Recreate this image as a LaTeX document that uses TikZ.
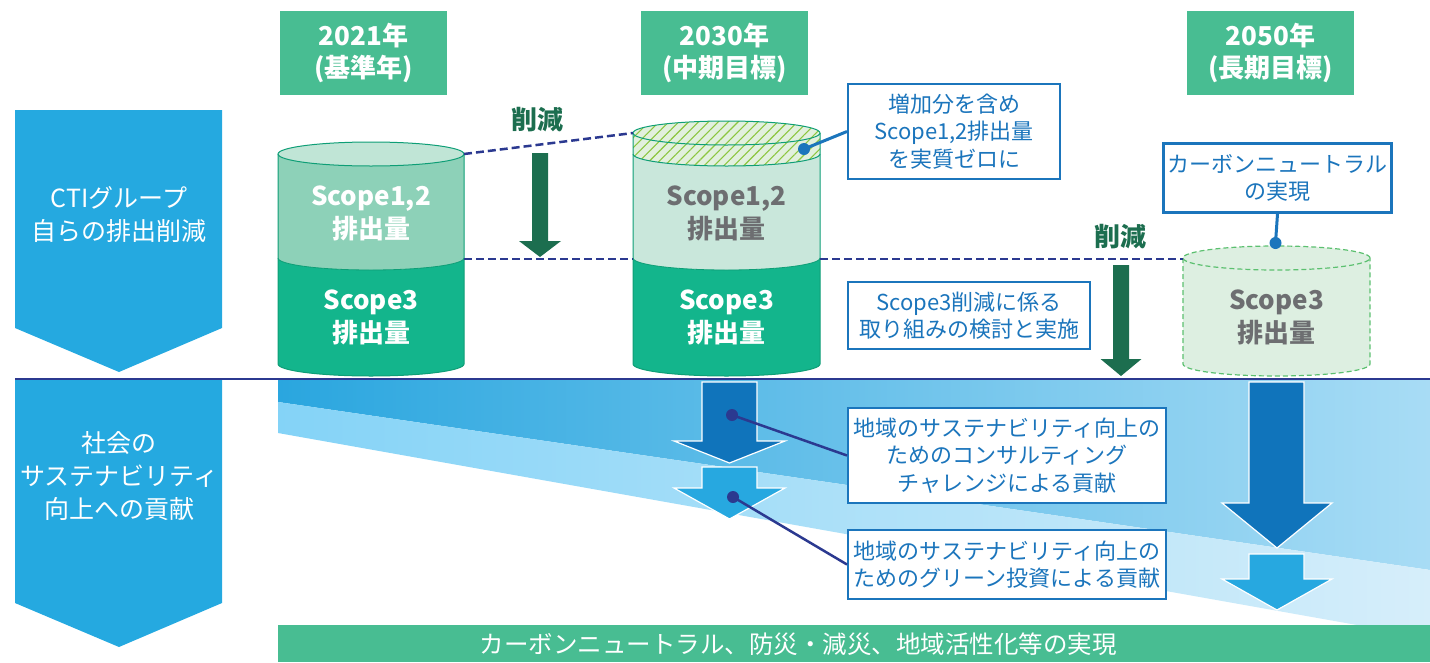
\documentclass[tikz,border=0pt]{standalone}
\usepackage{fontspec}
\setmainfont{Noto Sans CJK JP}
\usetikzlibrary{patterns.meta}
\definecolor{chev}{HTML}{25A9E0}
\definecolor{yeargreen}{HTML}{48BD92}
\definecolor{cylg}{HTML}{13B58C}
\definecolor{cylm}{HTML}{8DD1B8}
\definecolor{cylt}{HTML}{C0E5D6}
\definecolor{cyll}{HTML}{0E9E76}
\definecolor{cyllight}{HTML}{C9E7DB}
\definecolor{hatchbg}{HTML}{E2F0DE}
\definecolor{hatchln}{HTML}{8CC63F}
\definecolor{cylthree}{HTML}{DDEFE1}
\definecolor{cylthreel}{HTML}{5CC070}
\definecolor{navy}{HTML}{2B3990}
\definecolor{bblue}{HTML}{1B75BC}
\definecolor{dgreen}{HTML}{1C6E4F}
\definecolor{gtext}{HTML}{6D6E71}
\definecolor{arrdark}{HTML}{1074BB}
\definecolor{arrlight}{HTML}{27A8E0}
\definecolor{gradA}{HTML}{2AA6DF}
\definecolor{gradB}{HTML}{A8DCF5}
\definecolor{gradC}{HTML}{84D3F7}
\definecolor{gradD}{HTML}{D6EEFA}
\begin{document}
\begin{tikzpicture}[x=1pt,y=1pt,
  yearbox/.style={fill=yeargreen,text=white,font=\fontsize{26}{32}\selectfont\bfseries,minimum width=167,minimum height=84,inner sep=0,align=center},
  chevtext/.style={text=white,font=\fontsize{25}{33}\selectfont,align=center,inner sep=0},
  cyltext/.style={font=\fontsize{26}{33}\selectfont\bfseries,align=center,inner sep=0},
  cuttext/.style={text=dgreen,font=\fontsize{26}{30}\selectfont\bfseries,inner sep=0},
  infobox/.style={draw=bblue,line width=2,fill=white,text=bblue,font=\fontsize{22}{27.5}\selectfont,align=center,inner sep=0,anchor=north west},
  dashline/.style={draw=navy,line width=2.5,dash pattern=on 8pt off 4pt},
  blockarrow/.style={draw=white,line width=1.2},
  cutarrow/.style={fill=dgreen},
  rxy/.style={x radius=93,y radius=12}]
\useasboundingbox (0,0) rectangle (1430,-662);

% ---------- chevrons ----------
\fill[chev] (15,-110) -- (222,-110) -- (222,-328) -- (119,-372) -- (15,-328) -- cycle;
\node[chevtext] (ch1) at (119,-215) {CTIグループ\\自らの排出削減};
\fill[chev] (15,-380) -- (222,-380) -- (222,-603) -- (119,-647) -- (15,-603) -- cycle;
\node[chevtext] (ch2) at (119,-476) {社会の\\サステナビリティ\\向上への貢献};

% ---------- year boxes ----------
\node[yearbox] (y1) at (363.5,-53) {2021年\\(基準年)};
\node[yearbox] (y2) at (724.5,-53) {2030年\\(中期目標)};
\node[yearbox] (y3) at (1270.5,-53) {2050年\\(長期目標)};

% ---------- bottom gradient bands ----------
\shade[left color=gradA,right color=gradB] (278,-380) -- (1430,-380) -- (1430,-570) -- (278,-402) -- cycle;
\shade[left color=gradC,right color=gradD] (278,-402) -- (1430,-570) -- (1430,-638) -- (278,-433) -- cycle;
\fill[yeargreen] (278,-625) rectangle (1430,-662);
\node[text=white,font=\fontsize{24.5}{28}\selectfont,inner sep=0] (goal) at (798,-644) {カーボンニュートラル、防災・減災、地域活性化等の実現};

% ---------- cylinder 1 ----------
\fill[cylm] (278,-154) -- (278,-258) arc[start angle=180,end angle=360,rxy] -- (464,-154) -- cycle;
\fill[cylg] (278,-258) arc[start angle=180,end angle=360,rxy] -- (464,-364) arc[start angle=0,end angle=-180,rxy] -- cycle;
\filldraw[fill=cylt,draw=cyll,line width=1] (371,-154) ellipse[rxy];
\draw[cyll,line width=1] (278,-154) -- (278,-364) arc[start angle=180,end angle=360,rxy] -- (464,-154);
\draw[cyll,line width=0.8] (278,-258) arc[start angle=180,end angle=360,rxy];
\node[cyltext,text=white] (c1a) at (371,-213) {Scope1,2\\排出量};
\node[cyltext,text=white] (c1b) at (371,-317) {Scope3\\排出量};

% ---------- cylinder 2 ----------
\begin{scope}[rxy/.style={x radius=93.5,y radius=12}]
\fill[cyllight] (633,-154) -- (633,-258) arc[start angle=180,end angle=360,rxy] -- (820,-154) -- cycle;
\fill[cylg] (633,-258) arc[start angle=180,end angle=360,rxy] -- (820,-364) arc[start angle=0,end angle=-180,rxy] -- cycle;
\fill[hatchbg] (633,-133) -- (633,-154) arc[start angle=180,end angle=360,rxy] -- (820,-133) arc[start angle=0,end angle=180,rxy] -- cycle;
\fill[pattern={Lines[angle=45,distance=7pt,line width=1.1pt]},pattern color=hatchln] (633,-133) -- (633,-154) arc[start angle=180,end angle=360,rxy] -- (820,-133) arc[start angle=0,end angle=180,rxy] -- cycle;
\draw[cyll,line width=1] (726.5,-133) ellipse[rxy];
\draw[cyll,line width=1] (633,-154) arc[start angle=180,end angle=360,rxy];
\draw[cyll,line width=1] (633,-133) -- (633,-364) arc[start angle=180,end angle=360,rxy] -- (820,-133);
\draw[cyll,line width=0.8] (633,-258) arc[start angle=180,end angle=360,rxy];
\end{scope}
\node[cyltext,text=gtext] (c2a) at (726.5,-213) {Scope1,2\\排出量};
\node[cyltext,text=white] (c2b) at (726.5,-317) {Scope3\\排出量};

% ---------- cylinder 3 ----------
\begin{scope}[rxy/.style={x radius=93.5,y radius=12}]
\fill[cylthree] (1183,-258) -- (1183,-364) arc[start angle=180,end angle=360,rxy] -- (1370,-258) arc[start angle=0,end angle=180,rxy] -- cycle;
\draw[cylthreel,line width=1.2,dash pattern=on 5pt off 3pt] (1276.5,-258) ellipse[rxy];
\draw[cylthreel,line width=1.2,dash pattern=on 5pt off 3pt] (1183,-258) -- (1183,-364) arc[start angle=180,end angle=360,rxy] -- (1370,-258);
\end{scope}
\node[cyltext,text=gtext] (c3) at (1276.5,-317) {Scope3\\排出量};

% ---------- dashed reference lines ----------
\coordinate (c1top) at (464,-154);
\coordinate (c2top) at (633,-133);
\coordinate (c1mid) at (464,-259);
\coordinate (c2midL) at (633,-259);
\coordinate (c2midR) at (820,-259);
\coordinate (c3mid) at (1183,-259);
\draw[dashline] (c1top) -- (c2top);
\draw[dashline] (c1mid) -- (c2midL);
\draw[dashline] (c2midR) -- (c3mid);

% ---------- reduction arrows ----------
\node[cuttext] (cut1) at (537,-120) {削減};
\fill[cutarrow] (532,-153) -- (548,-153) -- (548,-241) -- (561,-241) -- (540,-257) -- (519,-241) -- (532,-241) -- cycle;
\node[cuttext] (cut2) at (1120,-237) {削減};
\fill[cutarrow] (1113,-265) -- (1129,-265) -- (1129,-359) -- (1141.5,-359) -- (1121,-376) -- (1100.5,-359) -- (1113,-359) -- cycle;

% ---------- divider line ----------
\draw[navy,line width=2] (15,-379) -- (1430,-379);

% ---------- block arrows ----------
\filldraw[blockarrow,fill=arrdark] (702,-382) -- (757,-382) -- (757,-441) -- (785,-441) -- (729.5,-463) -- (674,-441) -- (702,-441) -- cycle;
\filldraw[blockarrow,fill=arrlight] (702,-467) -- (757,-467) -- (757,-488) -- (785,-488) -- (729.5,-519) -- (674,-488) -- (702,-488) -- cycle;
\filldraw[blockarrow,fill=arrdark] (1249,-382) -- (1304,-382) -- (1304,-503) -- (1332,-503) -- (1277,-548) -- (1222,-503) -- (1249,-503) -- cycle;
\filldraw[blockarrow,fill=arrlight] (1249,-554) -- (1304,-554) -- (1304,-579) -- (1332,-579) -- (1277,-610) -- (1222,-579) -- (1249,-579) -- cycle;

% ---------- info boxes ----------
\node[infobox,minimum width=212,minimum height=95] (b1) at (847,-83) {増加分を含め\\Scope1,2排出量\\を実質ゼロに};
\node[infobox,line width=3,minimum width=228,minimum height=69] (b2) at (1162,-142) {カーボンニュートラル\\の実現};
\node[infobox,minimum width=242,minimum height=67] (b3) at (847,-281) {Scope3削減に係る\\取り組みの検討と実施};
\node[infobox,minimum width=318,minimum height=95] (b4) at (847,-407) {地域のサステナビリティ向上の\\ためのコンサルティング\\チャレンジによる貢献};
\node[infobox,minimum width=318,minimum height=69] (b5) at (847,-529) {地域のサステナビリティ向上の\\ためのグリーン投資による貢献};

% ---------- callout connectors ----------
\coordinate (d1) at (804,-149);
\coordinate (d2) at (1275.5,-243);
\coordinate (d3) at (732,-415);
\coordinate (d4) at (733,-497);
\draw[bblue,line width=3] (d1) -- (b1.west);
\fill[bblue] (d1) circle[radius=6];
\draw[bblue,line width=3] (d2) -- (b2.south);
\fill[bblue] (d2) circle[radius=6];
\draw[navy,line width=2.5] (d3) -- (b4.west);
\fill[navy] (d3) circle[radius=6];
\draw[navy,line width=2.5] (d4) -- (b5.west);
\fill[navy] (d4) circle[radius=6];
\end{tikzpicture}
\end{document}
